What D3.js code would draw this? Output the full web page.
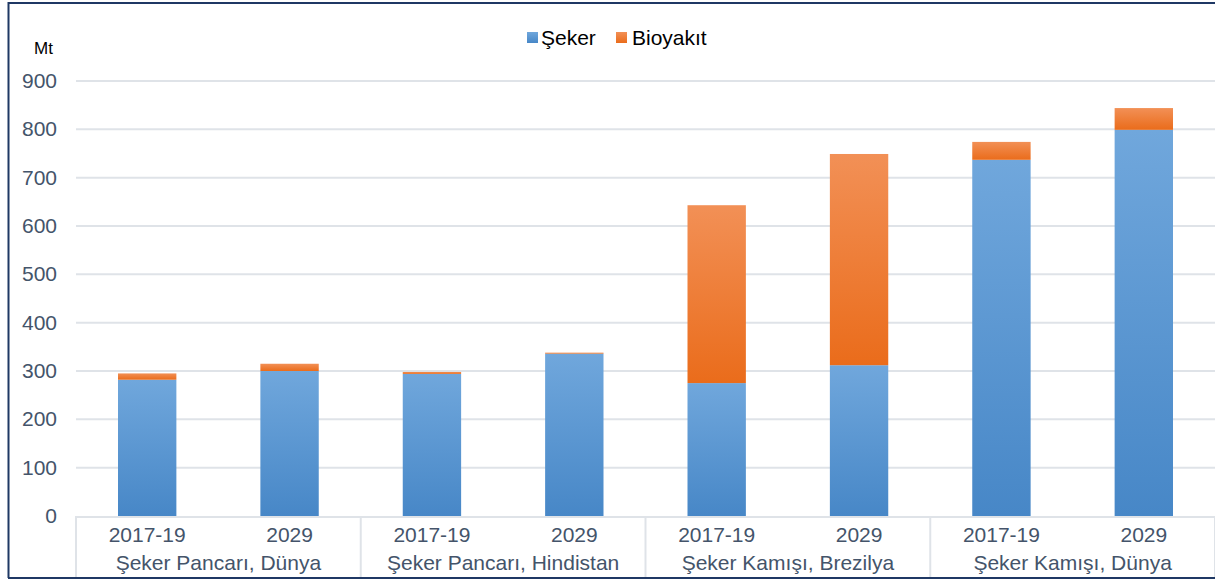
<!DOCTYPE html>
<html>
<head>
<meta charset="utf-8">
<script src="https://cdn.jsdelivr.net/npm/d3@7"></script>
<style>
  body { margin:0; background:#fff; }
  text { font-family: "Liberation Sans", Arial, sans-serif; }
</style>
</head>
<body>
<div id="svgcontainer"></div>
<script>
var periods = ["2017-19","2029","2017-19","2029","2017-19","2029","2017-19","2029"];
var groups = ["Şeker Pancarı, Dünya","Şeker Pancarı, Hindistan","Şeker Kamışı, Brezilya","Şeker Kamışı, Dünya"];
var seker = [282, 300, 294, 336, 275, 312, 737, 799];
var biyoyakit = [13, 15, 4, 2, 368, 437, 37, 45];
var yTicks = [0,100,200,300,400,500,600,700,800,900];
var seriesNames = ["Şeker","Bioyakıt"];

var width = 1215, height = 580;
var plotLeft = 76, plotRight = 1215, plotTop = 81, plotBottom = 516;

var svg = d3.select("#svgcontainer")
    .append("svg")
    .attr("width", width)
    .attr("height", height);

var defs = svg.append("defs");
function grad(id, c1, c2){
  var g = defs.append("linearGradient").attr("id", id)
    .attr("x1",0).attr("y1",0).attr("x2",0).attr("y2",1);
  g.append("stop").attr("offset","0%").attr("stop-color",c1);
  g.append("stop").attr("offset","100%").attr("stop-color",c2);
}
grad("gBlue", "#70a7dc", "#4787c7");
grad("gOrange", "#f29056", "#ea6c1b");

var idx = d3.range(periods.length);
var x = d3.scaleBand().domain(idx).range([plotLeft, plotRight])
    .paddingInner(0.59).paddingOuter(0.295);
var y = d3.scaleLinear().domain([0,900]).range([plotBottom, plotTop]);

// gridlines
svg.append("g").selectAll("line").data(yTicks.slice(1)).enter().append("line")
  .attr("x1", plotLeft).attr("x2", plotRight)
  .attr("y1", d => y(d)).attr("y2", d => y(d))
  .style("stroke", "#dfe3e8").style("stroke-width", 2);

// y labels
svg.append("g").selectAll("text").data(yTicks).enter().append("text")
  .attr("x", 57).attr("y", d => y(d) + 7)
  .attr("text-anchor", "end")
  .style("font-size", "21px").style("fill", "#44546a")
  .text(d => d);

svg.append("text").attr("x", 34).attr("y", 54)
  .style("font-size", "17px").style("fill", "#000").text("Mt");

// bars
var bars = svg.append("g");
bars.selectAll("rect.s").data(idx).enter().append("rect")
  .attr("x", i => x(i)).attr("width", x.bandwidth())
  .attr("y", i => y(seker[i])).attr("height", i => y(0) - y(seker[i]))
  .attr("fill", "url(#gBlue)");
bars.selectAll("rect.b").data(idx).enter().append("rect")
  .attr("x", i => x(i)).attr("width", x.bandwidth())
  .attr("y", i => y(seker[i] + biyoyakit[i]))
  .attr("height", i => y(seker[i]) - y(seker[i] + biyoyakit[i]))
  .attr("fill", "url(#gOrange)");

// category axis
svg.append("line").attr("x1", plotLeft).attr("x2", plotRight)
  .attr("y1", plotBottom + 1).attr("y2", plotBottom + 1)
  .style("stroke", "#dfe3e8").style("stroke-width", 2);
var gw = (plotRight - plotLeft) / groups.length;
svg.append("g").selectAll("line").data(d3.range(groups.length + 1)).enter().append("line")
  .attr("x1", i => plotLeft + i * gw).attr("x2", i => plotLeft + i * gw)
  .attr("y1", plotBottom).attr("y2", 578)
  .style("stroke", "#dfe3e8").style("stroke-width", 2);

svg.append("g").selectAll("text").data(idx).enter().append("text")
  .attr("x", i => x(i) + x.bandwidth() / 2).attr("y", 542)
  .attr("text-anchor", "middle")
  .style("font-size", "21px").style("fill", "#44546a")
  .text(i => periods[i]);

svg.append("g").selectAll("text").data(groups).enter().append("text")
  .attr("x", (d, i) => plotLeft + i * gw + gw / 2).attr("y", 570)
  .attr("text-anchor", "middle")
  .style("font-size", "21px").style("fill", "#44546a")
  .text(d => d);

// legend
var legend = svg.append("g");
var lx = [527, 616];
var lfill = ["url(#gBlue)", "url(#gOrange)"];
seriesNames.forEach(function(n, i){
  legend.append("rect").attr("x", lx[i]).attr("y", 32).attr("width", 11).attr("height", 11)
    .attr("fill", lfill[i]);
  legend.append("text").attr("x", lx[i] + 14 + i * 2).attr("y", 45)
    .style("font-size", "21px").style("fill", "#000").text(n);
});

// frame
svg.append("path")
  .attr("d", "M8.5,578 L8.5,3 L1215,3")
  .style("fill", "none").style("stroke", "#1f3864").style("stroke-width", 2);
svg.append("line").attr("x1", 8).attr("x2", 1215).attr("y1", 578).attr("y2", 578)
  .style("stroke", "#1f3864").style("stroke-width", 2);
</script>
</body>
</html>
